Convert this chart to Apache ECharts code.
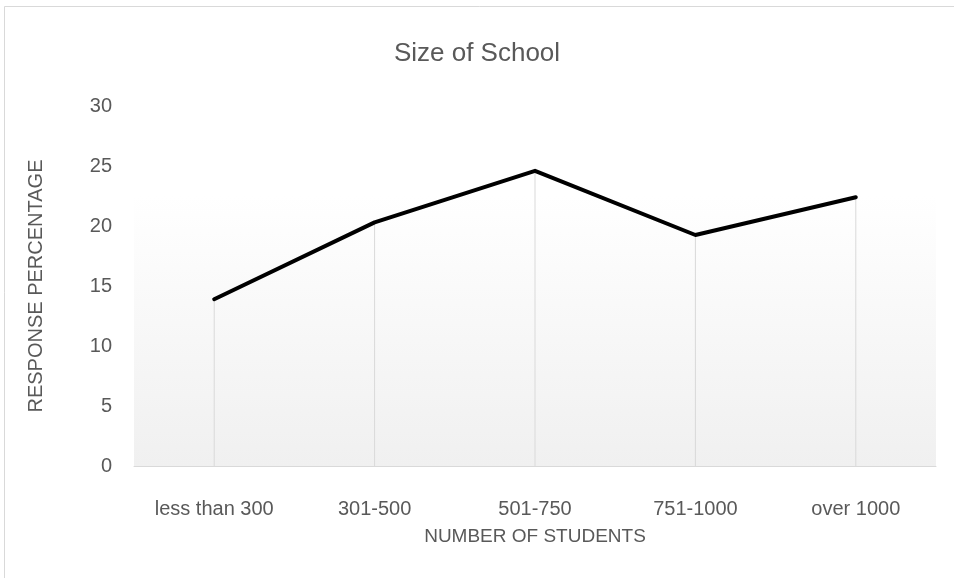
<!DOCTYPE html>
<html>
<head>
<meta charset="utf-8">
<script src="https://cdn.jsdelivr.net/npm/echarts@6/dist/echarts.min.js"></script>
<style>html,body{margin:0;padding:0;background:#fff}#c{width:954px;height:578px}</style>
</head>
<body>
<div id="c"></div>
<script>
var categories = ['less than 300', '301-500', '501-750', '751-1000', 'over 1000'];
var responsePct = [13.9, 20.3, 24.6, 19.25, 22.4];
var yTicks = { min: 0, max: 30, interval: 5 };

var chart = echarts.init(document.getElementById('c'));
var font = 'Liberation Sans';
chart.setOption({
  animation: false,
  backgroundColor: '#fff',
  title: {
    text: 'Size of School', left: 'center', top: 36,
    textStyle: { fontFamily: font, fontSize: 26, fontWeight: 'normal', color: '#595959' }
  },
  graphic: [{
    type: 'rect', shape: { x: 4.5, y: 6.5, width: 960, height: 600 },
    style: { fill: 'none', stroke: '#d9d9d9', lineWidth: 1 }, silent: true, z: -1
  }],
  grid: {
    left: 134, right: 18, top: 106, bottom: 112,
    show: true, borderWidth: 0,
    backgroundColor: new echarts.graphic.LinearGradient(0, 0, 0, 1, [
      { offset: 0, color: '#ffffff' },
      { offset: 0.25, color: '#ffffff' },
      { offset: 1, color: '#f0f0f0' }
    ])
  },
  xAxis: {
    type: 'category', data: categories, boundaryGap: true,
    name: 'NUMBER OF STUDENTS', nameLocation: 'middle', nameGap: 61,
    nameTextStyle: { fontFamily: font, fontSize: 19, color: '#595959' },
    axisLine: { lineStyle: { color: '#d9d9d9', width: 1 } },
    axisTick: { show: false },
    axisLabel: { fontFamily: font, fontSize: 20, color: '#595959', margin: 33, interval: 0, hideOverlap: false },
    splitLine: { show: false }
  },
  yAxis: {
    type: 'value', min: yTicks.min, max: yTicks.max, interval: yTicks.interval,
    name: 'RESPONSE PERCENTAGE', nameLocation: 'middle', nameGap: 88, nameRotate: 90,
    nameTextStyle: { fontFamily: font, fontSize: 20, color: '#595959' },
    axisLine: { show: false }, axisTick: { show: false },
    axisLabel: { fontFamily: font, fontSize: 20, color: '#595959', margin: 22 },
    splitLine: { show: false }
  },
  series: [
    {
      type: 'bar', data: responsePct, barWidth: 1, silent: true,
      itemStyle: { color: '#d9d9d9' }, z: 1
    },
    {
      type: 'line', data: responsePct, symbol: 'none',
      lineStyle: { color: '#000', width: 4, join: 'round', cap: 'round' }, z: 3
    }
  ]
});
</script>
</body>
</html>
